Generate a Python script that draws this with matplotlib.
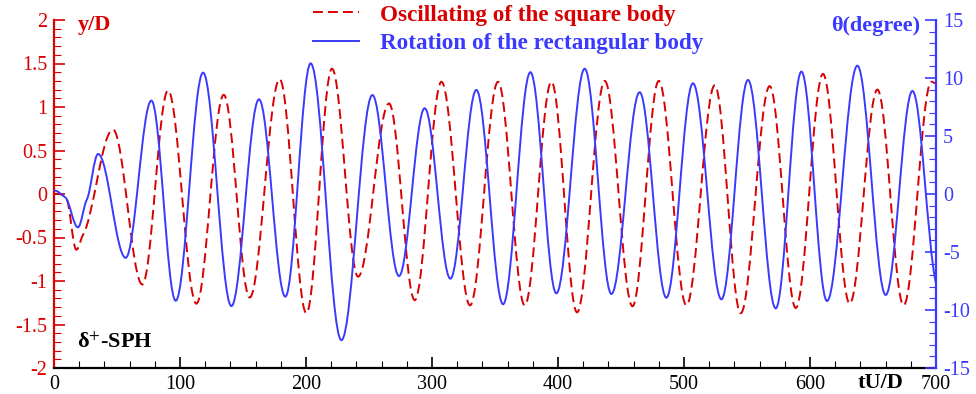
import numpy as np
import matplotlib.pyplot as plt
from matplotlib.path import Path
from matplotlib.patches import PathPatch
from matplotlib.lines import Line2D
from matplotlib.ticker import MultipleLocator

plt.rcParams['font.family'] = ['Liberation Serif', 'DejaVu Serif']
plt.rcParams['mathtext.fontset'] = 'stix'
plt.rcParams['axes.unicode_minus'] = False

# turning points (tU/D, y/D)
red_t = [0, 9.8, 17.8, 23, 46.8, 70.1, 90.5, 113, 134.7, 155.3, 179.1, 200.3,
         220.6, 241.3, 265.9, 286.3, 307.5, 330.2, 352.4, 373.6, 394.8, 415.1,
         437.1, 459.1, 480, 501.9, 524.4, 545, 568, 588.7, 610.3, 631.5,
         653.5, 674.3, 696.3, 700]
red_y = [0.0, -0.05, -0.64, -0.47, 0.74, -1.04, 1.19, -1.26, 1.14, -1.19, 1.32,
         -1.37, 1.44, -0.95, 1.04, -1.22, 1.29, -1.28, 1.29, -1.28, 1.29, -1.36,
         1.30, -1.29, 1.30, -1.28, 1.25, -1.37, 1.24, -1.31, 1.38, -1.26,
         1.20, -1.28, 1.29, 1.27]

# turning points (tU/D, theta in degree)
blue_t = [0, 9, 19, 26, 35, 56.9, 77.3, 96.6, 118.3, 140.8, 162.7, 183.6,
          203.7, 228.1, 252.7, 273.8, 294.2, 314.6, 335.2, 356.4, 378.1, 398.7,
          421.2, 442.4, 464.8, 486, 507.1, 529.7, 550.8, 572.8, 593.2, 613.5,
          637.6, 660.1, 681.3, 700]
blue_th = [0.3, -0.3, -2.87, -0.5, 3.45, -5.5, 8.05, -9.2, 10.46, -9.66, 8.16,
           -8.85, 11.26, -12.6, 8.53, -7.07, 7.39, -7.3, 8.97, -9.5, 10.5, -8.56,
           10.8, -8.62, 8.77, -8.94, 9.54, -9.08, 9.83, -9.86, 10.55, -9.22,
           11.06, -8.7, 8.88, -7.7]

RED = '#d80000'
BLUE = '#3a3aff'
DASH = (0, (5.1, 2.6))


def smooth_path(t, v, k=0.36):
    # bezier path through the turning points, flat at peaks and troughs
    t = np.asarray(t, float)
    v = np.asarray(v, float)
    n = len(t)
    m = np.zeros(n)
    for i in range(1, n - 1):
        if (v[i] - v[i - 1]) * (v[i + 1] - v[i]) > 0:
            m[i] = 0.5 * (v[i + 1] - v[i - 1]) / (t[i + 1] - t[i - 1])
    m[-1] = 0.5 * (v[-1] - v[-2]) / (t[-1] - t[-2])
    verts = [(t[0], v[0])]
    codes = [Path.MOVETO]
    for i in range(n - 1):
        dt = t[i + 1] - t[i]
        verts += [(t[i] + k * dt, v[i] + m[i] * k * dt),
                  (t[i + 1] - k * dt, v[i + 1] - m[i + 1] * k * dt),
                  (t[i + 1], v[i + 1])]
        codes += [Path.CURVE4] * 3
    return Path(verts, codes)


fig = plt.figure(figsize=(9.76, 3.94), dpi=100)
ax = fig.add_axes([54 / 976, 26 / 394, 882 / 976, 348 / 394])
ax2 = ax.twinx()

ax.set_xlim(0, 700)
ax.set_ylim(-2, 2)
ax2.set_ylim(-15, 15)

ax.add_patch(PathPatch(smooth_path(red_t, red_y), fill=False, edgecolor=RED,
                       lw=1.4, linestyle=DASH, capstyle='butt'))
ax2.add_patch(PathPatch(smooth_path(blue_t, blue_th), fill=False,
                        edgecolor=BLUE, lw=1.4))

ax.xaxis.set_major_locator(MultipleLocator(100))
ax.xaxis.set_minor_locator(MultipleLocator(20))
ax.yaxis.set_major_locator(MultipleLocator(0.5))
ax.yaxis.set_minor_locator(MultipleLocator(0.1))
ax2.yaxis.set_major_locator(MultipleLocator(5))
ax2.yaxis.set_minor_locator(MultipleLocator(1))

ax.yaxis.set_major_formatter(plt.FuncFormatter(lambda v, p: ('%g' % v)))

ax.tick_params(axis='x', which='both', direction='in', colors='black',
               labelsize=14.5, pad=5)
ax.tick_params(axis='x', which='major', length=8, width=1.2)
ax.tick_params(axis='x', which='minor', length=5, width=0.8)
ax.tick_params(axis='y', which='both', direction='in', colors=RED,
               labelsize=14.5, pad=5)
ax.tick_params(axis='y', which='major', length=8, width=1.2)
ax.tick_params(axis='y', which='minor', length=5, width=0.8)
ax2.tick_params(axis='y', which='both', direction='in', colors=BLUE,
                labelsize=14.5, pad=5)
ax2.tick_params(axis='y', which='major', length=8, width=1.2)
ax2.tick_params(axis='y', which='minor', length=5, width=0.8)

# lift the bottom right label (-15) off the 700 label
ax2.yaxis.get_major_ticks()[0].label2.set_va('bottom')

for a in (ax, ax2):
    a.spines['top'].set_visible(False)
ax.spines['right'].set_visible(False)
ax2.spines['left'].set_visible(False)
ax2.spines['bottom'].set_visible(False)
ax.spines['left'].set_color(RED)
ax.spines['left'].set_linewidth(1.6)
ax.spines['bottom'].set_color('black')
ax.spines['bottom'].set_linewidth(1.6)
ax2.spines['right'].set_color(BLUE)
ax2.spines['right'].set_linewidth(1.6)

ax.text(0.027, 0.985, 'y/D', transform=ax.transAxes, color=RED,
        fontsize=16, fontweight='bold', va='center', ha='left')
ax.text(0.982, 0.983, '\u03b8(degree)', transform=ax.transAxes, color=BLUE,
        fontsize=16, fontweight='bold', va='center', ha='right')
ax.text(0.937, -0.043, 'tU/D', transform=ax.transAxes, color='black',
        fontsize=16, fontweight='bold', va='center', ha='center')
ax.text(0.026, 0.072, '\u03b4$^{+}$-SPH', transform=ax.transAxes,
        color='black', fontsize=16, fontweight='bold', va='center', ha='left')

handles = [Line2D([], [], color=RED, lw=1.4, linestyle=DASH),
           Line2D([], [], color=BLUE, lw=1.4)]
labels = ['Oscillating of the square body', 'Rotation of the rectangular body']
fig.legend(handles, labels, loc='upper left', bbox_to_anchor=(0.318, 0.995),
           frameon=False, prop={'weight': 'bold', 'size': 16.7},
           labelcolor='linecolor', handlelength=2.0, handletextpad=0.9,
           labelspacing=0.33, borderpad=0.1, borderaxespad=0)

fig.savefig('out.png', dpi=100)
